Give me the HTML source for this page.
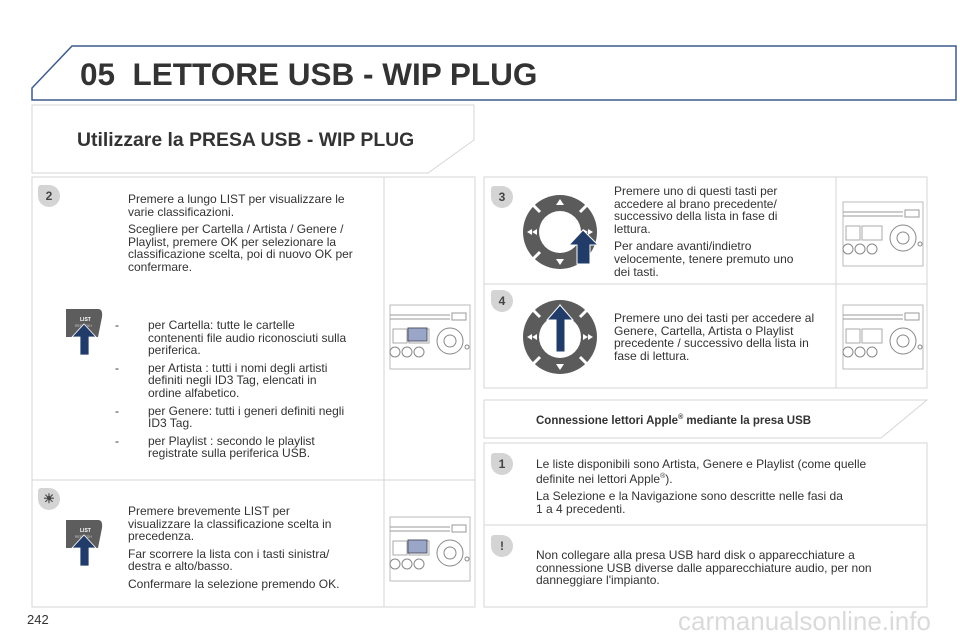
<!DOCTYPE html>
<html><head><meta charset="utf-8"><style>
*{margin:0;padding:0;box-sizing:border-box}
body{width:960px;height:640px;background:#fff;position:relative;overflow:hidden;font-family:"Liberation Sans",sans-serif;color:#333}
.a{position:absolute}
.t{position:absolute;font-size:12px;line-height:12.6px;color:#333}
.t p{margin-bottom:5px}
.nw{white-space:nowrap}
.badge{position:absolute;width:22px;height:22px;background:#d4d4d4;border-radius:3px 11px 11px 11px;font:bold 12px "Liberation Sans",sans-serif;color:#444;text-align:center;line-height:22px}
.li{position:relative;padding-left:33px;margin-bottom:5px}
.li:before{content:"-";position:absolute;left:0}
</style></head><body>
<svg class="a" style="left:0;top:0" width="960" height="640">
<path d="M72 46 H956 V100 H32 V88 Z" fill="#fff" stroke="#3d5a8a" stroke-width="1.5"/>
<path d="M32 105 H474 V140 L428 173 H32 Z" fill="#fff" stroke="#d6d6d6"/>
<path d="M484 400 H927 L881 438 H484 Z" fill="#fff" stroke="#d6d6d6"/>
<defs>
<g id="radio">
<rect x="0" y="0" width="80" height="64" fill="#fff" stroke="#bbb"/>
<line x1="0" y1="10" x2="60" y2="10" stroke="#999"/><line x1="0" y1="14" x2="60" y2="14" stroke="#999"/>
<rect x="62" y="8" width="14" height="7" fill="#fff" stroke="#999"/>
<rect x="3" y="24" width="14" height="14" fill="#fff" stroke="#aaa"/>
<rect x="19" y="24" width="20" height="14" fill="#fff" stroke="#aaa"/>
<circle cx="5" cy="47" r="5" fill="#fff" stroke="#888"/><circle cx="17" cy="47" r="5" fill="#fff" stroke="#888"/><circle cx="29" cy="47" r="5" fill="#fff" stroke="#888"/>
<circle cx="60" cy="36" r="13" fill="#fff" stroke="#888"/><circle cx="60" cy="36" r="6" fill="#fff" stroke="#888"/>
<circle cx="77" cy="42" r="2" fill="#fff" stroke="#888"/>
</g>
<g id="pad">
<circle r="37" fill="#5b5b5b"/><circle r="21" fill="#fff"/>
<g stroke="#fff" stroke-width="3"><line x1="-20" y1="-20" x2="-28" y2="-28"/><line x1="20" y1="-20" x2="28" y2="-28"/><line x1="-20" y1="20" x2="-28" y2="28"/><line x1="20" y1="20" x2="28" y2="28"/></g>
<path d="M0 -33 l-4 6 h8z M0 33 l-4 -6 h8z" fill="#fff"/>
<path d="M-33 0 l5 -3 v6z M-28 0 l5 -3 v6z M33 0 l-5 -3 v6z M28 0 l-5 -3 v6z" fill="#fff"/>
</g>
<g id="listbtn">
<path d="M0 0 H32 Q37 0 36 8 L32 28 H0 Z" fill="#5d5d5d"/>
<text x="14" y="12" font-size="5" font-weight="bold" fill="#fff" font-family="Liberation Sans">LIST</text>
<text x="9" y="18" font-size="3.5" fill="#ccc" font-family="Liberation Sans">REFRESH</text>
<path d="M18 15 L30 28 H23 V46 H14 V28 H6 Z" fill="#223c6a" stroke="#fff" stroke-width="0.8"/>
</g>
</defs>
<rect x="32" y="177" width="443" height="430" fill="none" stroke="#d6d6d6"/>
<line x1="384" y1="177" x2="384" y2="607" stroke="#d6d6d6"/>
<line x1="32" y1="480" x2="475" y2="480" stroke="#d6d6d6"/>
<rect x="484" y="177" width="443" height="211" fill="none" stroke="#d6d6d6"/>
<line x1="836" y1="177" x2="836" y2="388" stroke="#d6d6d6"/>
<line x1="484" y1="284" x2="927" y2="284" stroke="#d6d6d6"/>
<rect x="484" y="443" width="443" height="164" fill="none" stroke="#d6d6d6"/>
<line x1="484" y1="525" x2="927" y2="525" stroke="#d6d6d6"/>
<use href="#radio" x="390" y="305"/>
<rect x="408" y="328" width="19" height="13" fill="#9aa6c8" stroke="#556"/>
<use href="#radio" x="390" y="517"/>
<rect x="408" y="540" width="19" height="13" fill="#9aa6c8" stroke="#556"/>
<use href="#radio" x="843" y="202"/>
<use href="#radio" x="843" y="305"/>
<use href="#pad" x="560" y="232"/>
<path d="M583 230 L598 245 H590 V264 H577 V245 H569 Z" fill="#223c6a" stroke="#fff"/>
<use href="#pad" x="560" y="337"/>
<path d="M560 305 L573 320 H565 V352 H556 V320 H547 Z" fill="#223c6a" stroke="#fff"/>
<use href="#listbtn" x="66" y="309"/>
<use href="#listbtn" x="66" y="520"/>
</svg>
<div class="a" style="left:80px;top:56px;font:bold 31.5px 'Liberation Sans',sans-serif;color:#333;white-space:nowrap">05&nbsp; LETTORE USB - WIP PLUG</div>
<div class="a" style="left:77px;top:129px;font:bold 19.4px 'Liberation Sans',sans-serif;color:#333;white-space:nowrap">Utilizzare la PRESA USB - WIP PLUG</div>
<div class="badge" style="left:38px;top:185px">2</div>
<div class="badge" style="left:38px;top:488px;font-size:13px">☀</div>
<div class="badge" style="left:491px;top:186px">3</div>
<div class="badge" style="left:491px;top:290px">4</div>
<div class="badge" style="left:491px;top:453px">1</div>
<div class="badge" style="left:491px;top:535px">!</div>
<div class="t" style="left:128px;top:193px;width:242px">
<p>Premere a lungo LIST per visualizzare le varie classificazioni.</p>
<p>Scegliere per Cartella / Artista / Genere / Playlist, premere OK per selezionare la classificazione scelta, poi di nuovo OK per confermare.</p></div>
<div class="t nw" style="left:115px;top:319px">
<div class="li">per Cartella: tutte le cartelle<br>contenenti file audio riconosciuti sulla<br>periferica.</div>
<div class="li">per Artista : tutti i nomi degli artisti<br>definiti negli ID3 Tag, elencati in<br>ordine alfabetico.</div>
<div class="li">per Genere: tutti i generi definiti negli<br>ID3 Tag.</div>
<div class="li">per Playlist : secondo le playlist<br>registrate sulla periferica USB.</div></div>
<div class="t" style="left:128px;top:505px;width:222px">
<p>Premere brevemente LIST per visualizzare la classificazione scelta in precedenza.</p>
<p>Far scorrere la lista con i tasti sinistra/ destra e alto/basso.</p>
<p>Confermare la selezione premendo OK.</p></div>
<div class="t nw" style="left:614px;top:185px">
<p>Premere uno di questi tasti per<br>accedere al brano precedente/<br>successivo della lista in fase di<br>lettura.</p>
<p>Per andare avanti/indietro<br>velocemente, tenere premuto uno<br>dei tasti.</p></div>
<div class="t" style="left:614px;top:312px;width:215px">
<p>Premere uno dei tasti per accedere al Genere, Cartella, Artista o Playlist precedente / successivo della lista in fase di lettura.</p></div>
<div class="a" style="left:536px;top:414px;font:bold 11.5px 'Liberation Sans',sans-serif">Connessione lettori Apple<sup style="font-size:7px">®</sup> mediante la presa USB</div>
<div class="t" style="left:536px;top:458px;width:362px">
<p>Le liste disponibili sono Artista, Genere e Playlist (come quelle definite nei lettori Apple<sup style="font-size:7px">®</sup>).</p>
<p>La Selezione e la Navigazione sono descritte nelle fasi da<br>1 a 4 precedenti.</p></div>
<div class="t" style="left:536px;top:549px;width:355px">
<p>Non collegare alla presa USB hard disk o apparecchiature a connessione USB diverse dalle apparecchiature audio, per non danneggiare l'impianto.</p></div>
<div class="a" style="left:27px;top:612px;font-size:13px;color:#333">242</div>
<div class="a" style="left:678px;top:606px;font-size:26px;color:#dadada;white-space:nowrap">carmanualsonline.info</div>
</body></html>
